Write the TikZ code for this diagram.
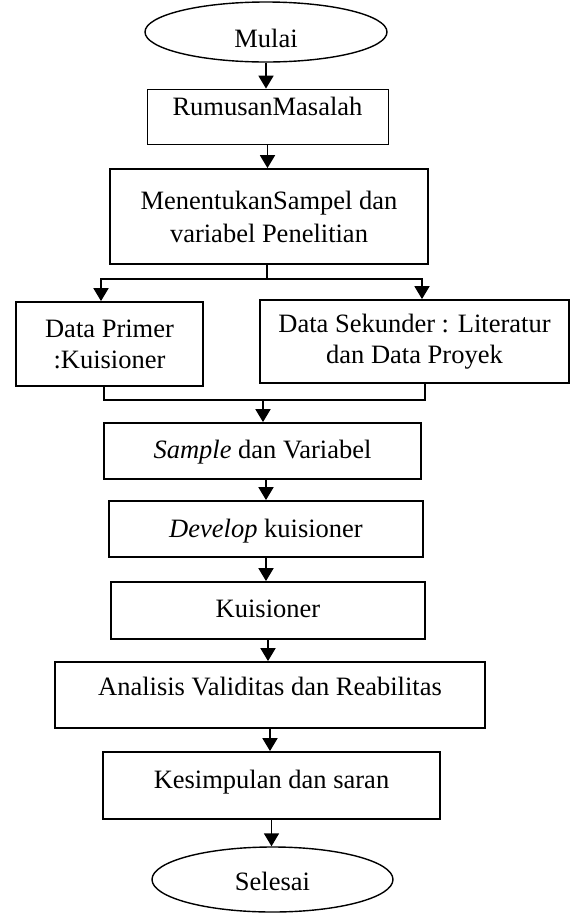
\documentclass[tikz,border=0pt]{standalone}
\usepackage{fontspec}
\setmainfont{Liberation Serif}
\usetikzlibrary{shapes.geometric,arrows.meta}

\begin{document}
\begin{tikzpicture}[x=1pt, y=-1pt,
  every node/.style={font=\fontsize{26.5}{31}\selectfont, inner sep=0pt},
  box/.style={draw, line width=1.8pt, text height=17.5pt, text depth=0pt},
  endbox/.style={draw, ellipse, line width=1.4pt},
  arr/.style={line width=1.8pt, -{Triangle[length=13pt,width=15pt]}},
  link/.style={line width=1.8pt}]
\useasboundingbox (0,0) rectangle (570,914);

\node[endbox, minimum width=242pt, minimum height=60pt, text height=30pt, text depth=0pt] (mulai) at (266,32) {Mulai};
\node[box, line width=0.8pt, minimum width=241pt, minimum height=55pt, text depth=20.5pt] (rumusan) at (267.5,116.5) {RumusanMasalah};
\node[draw, line width=1.8pt, minimum width=318pt, minimum height=95pt, align=center] (sampel) at (269,216.5) {MenentukanSampel dan\\[2pt] variabel Penelitian};

\node[draw, line width=1.8pt, minimum width=187pt, minimum height=84pt, align=center] (primer) at (109.5,344) {Data Primer\\ :Kuisioner};
\node[draw, line width=1.8pt, minimum width=309pt, minimum height=83pt, align=center] (sekunder) at (414.5,341.5) {Data Sekunder : Literatur\\ dan Data Proyek};

\node[box, minimum width=317pt, minimum height=56pt, text height=14pt] (sample) at (262.5,451) {\textit{Sample} dan Variabel};
\node[box, minimum width=314pt, minimum height=56pt] (develop) at (266,529) {\textit{Develop} kuisioner};
\node[box, minimum width=314pt, minimum height=57pt, text height=13pt] (kuis) at (268,610.5) {Kuisioner};
\node[box, minimum width=430pt, minimum height=66pt, text depth=17.5pt] (analisis) at (270,695) {Analisis Validitas dan Reabilitas};
\node[box, minimum width=337pt, minimum height=67pt, text depth=12.5pt] (simpulan) at (271.5,785.5) {Kesimpulan dan saran};
\node[endbox, minimum width=241pt, minimum height=65pt, text height=21pt, text depth=0pt] (selesai) at (272.5,879.5) {Selesai};

\coordinate (split) at (267,279);
\coordinate (pl) at (101,279);
\coordinate (pr) at (422,279);
\coordinate (bl) at (104,400);
\coordinate (br) at (425,400);
\coordinate (join) at (263,400);

\draw[arr] (mulai.south) -- (mulai.south |- rumusan.north);
\draw[arr] (rumusan.south) -- (rumusan.south |- sampel.north);
\draw[link] (sampel.south -| split) -- (split);
\draw[arr] (split) -| (primer.north -| pl);
\draw[arr] (split) -| (sekunder.north -| pr);
\draw[link] (primer.south -| bl) -- (bl) -- (br) -- (sekunder.south -| br);
\draw[arr] (join) -- (join |- sample.north);
\draw[arr] (develop.north |- sample.south) -- (develop.north);
\draw[arr] (develop.south) -- (develop.south |- kuis.north);
\draw[arr] (kuis.south) -- (kuis.south |- analisis.north);
\draw[arr] (analisis.south) -- (analisis.south |- simpulan.north);
\draw[arr] (simpulan.south) -- (simpulan.south |- selesai.north);
\end{tikzpicture}
\end{document}
